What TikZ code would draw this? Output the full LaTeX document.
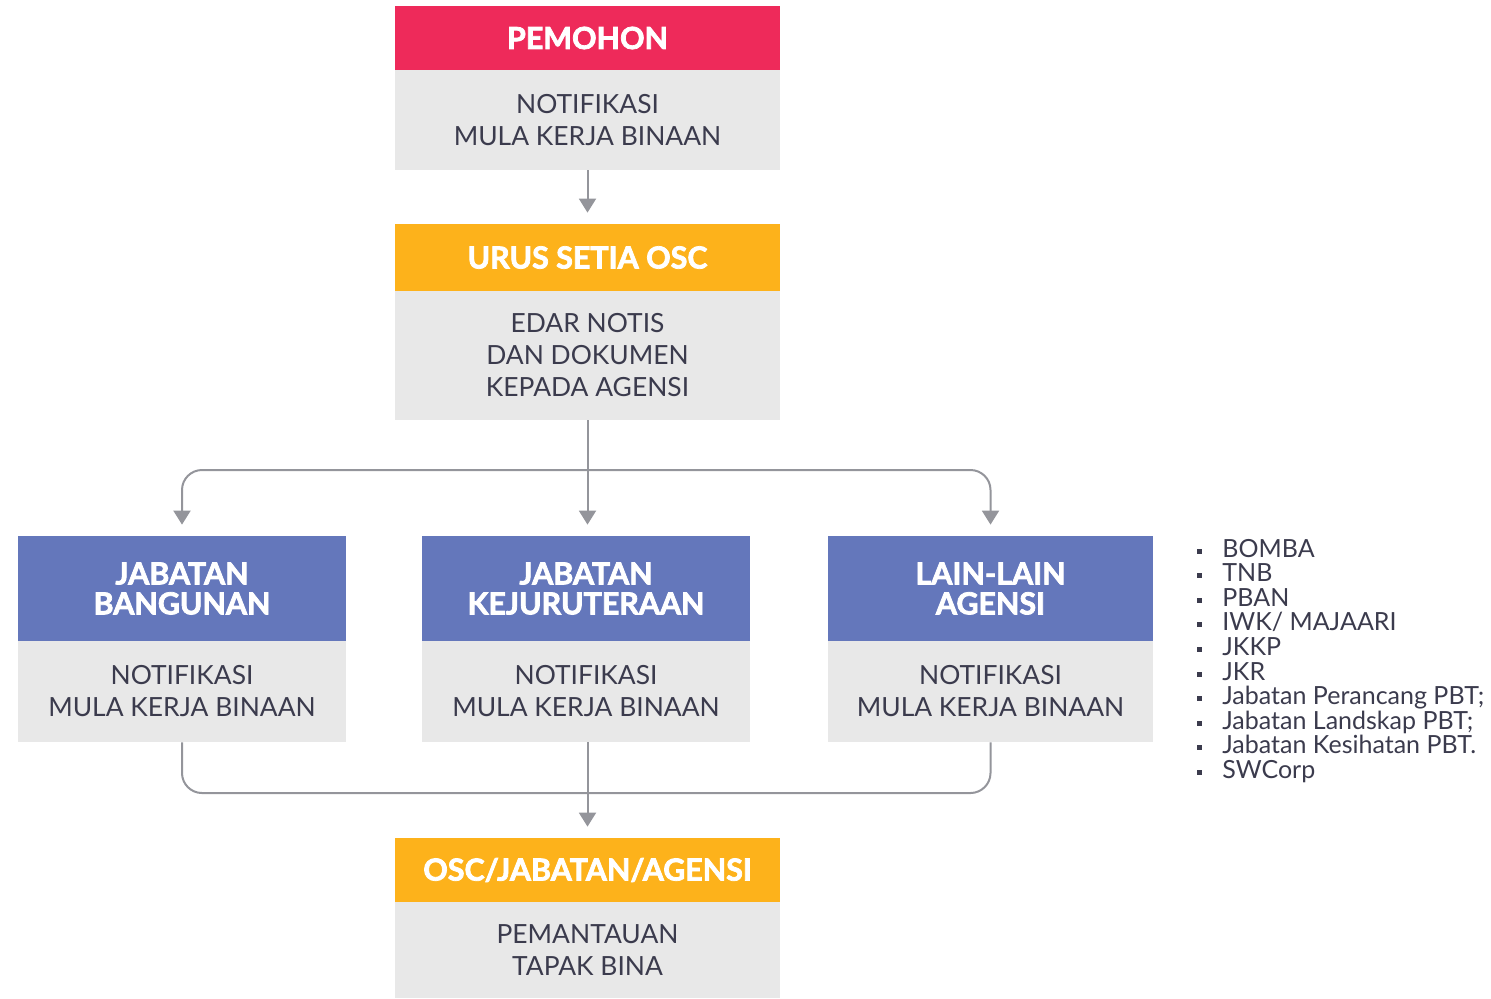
\documentclass[tikz,border=0pt]{standalone}
\usepackage{fontspec}
\setmainfont{Lato}[BoldFeatures={FakeBold=2.5}]
\usetikzlibrary{arrows.meta}
\definecolor{cred}{HTML}{EE2A5A}
\definecolor{corange}{HTML}{FDB21B}
\definecolor{cblue}{HTML}{6477BB}
\definecolor{cgrey}{HTML}{E8E8E8}
\definecolor{cline}{HTML}{94959B}
\definecolor{ctext}{HTML}{3B3B4D}
\begin{document}
\begin{tikzpicture}[x=0.5pt,y=-0.5pt,
  hdr/.style={inner sep=0pt, text=white, align=center,
    font=\fontsize{15.2}{15}\selectfont\bfseries},
  bodybox/.style={inner sep=0pt, fill=cgrey, text=ctext, align=center,
    font=\fontsize{13.2}{16}\selectfont},
  conn/.style={draw=cline, line width=1pt,
    -{Triangle[width=8.5pt,length=7pt]}, shorten >=5.5pt},
  link/.style={draw=cline, line width=1pt, rounded corners=10pt},
  item/.style={inner sep=0pt, anchor=base west, text=ctext,
    font=\fontsize{12.5}{12}\selectfont},
  bullet/.style={inner sep=0pt, fill=ctext, minimum size=2.5pt}
]
\useasboundingbox (0,0) rectangle (1491,998);

% top box
\node[hdr, fill=cred, minimum width=192.5pt, minimum height=32pt] (pemh) at (587.5,38) {PEMOHON};
\node[bodybox, minimum width=192.5pt, minimum height=50pt] (pemb) at (587.5,120) {NOTIFIKASI\\MULA KERJA BINAAN};

% urus setia
\node[hdr, fill=corange, minimum width=192.5pt, minimum height=33.5pt] (urush) at (587.5,257.5) {URUS SETIA OSC};
\node[bodybox, minimum width=192.5pt, minimum height=64.5pt] (urusb) at (587.5,355.5) {EDAR NOTIS\\DAN DOKUMEN\\KEPADA AGENSI};

% three agencies
\node[hdr, fill=cblue, minimum width=164pt, minimum height=52.5pt] (lefth) at (182,588.5) {JABATAN\\BANGUNAN};
\node[bodybox, minimum width=164pt, minimum height=50.5pt] (leftb) at (182,691.5) {NOTIFIKASI\\MULA KERJA BINAAN};

\node[hdr, fill=cblue, minimum width=164pt, minimum height=52.5pt] (midh) at (586,588.5) {JABATAN\\KEJURUTERAAN};
\node[bodybox, minimum width=164pt, minimum height=50.5pt] (midb) at (586,691.5) {NOTIFIKASI\\MULA KERJA BINAAN};

\node[hdr, fill=cblue, minimum width=162.5pt, minimum height=52.5pt] (righth) at (990.5,588.5) {LAIN-LAIN\\AGENSI};
\node[bodybox, minimum width=162.5pt, minimum height=50.5pt] (rightb) at (990.5,691.5) {NOTIFIKASI\\MULA KERJA BINAAN};

% bottom box
\node[hdr, fill=corange, minimum width=192.5pt, minimum height=32pt] (osch) at (587.5,870) {OSC/JABATAN/AGENSI};
\node[bodybox, minimum width=192.5pt, minimum height=48pt] (oscb) at (587.5,950) {PEMANTAUAN\\TAPAK BINA};

% connectors
\draw[conn] (pemb.south) -- (urush.north);
\coordinate (j1) at (587.5,470);
\draw[conn] (urusb.south) -- (urusb.south |- midh.north);
\draw[conn, rounded corners=10pt] (j1) -| (lefth.north);
\draw[conn, rounded corners=10pt] (j1) -| (righth.north);

\coordinate (j2) at (587.5,793);
\draw[link] (leftb.south) |- (j2);
\draw[link] (rightb.south) |- (j2);
\draw[conn] (urusb.south |- midb.south) -- (osch.north);

% list of other agencies
\foreach \t [count=\i from 0] in {BOMBA,TNB,PBAN,IWK/ MAJAARI,JKKP,JKR,Jabatan Perancang PBT;,Jabatan Landskap PBT;,Jabatan Kesihatan PBT.,SWCorp}{
  \node[item] (it\i) at (1222,{557+24.6*\i}) {\t};
  \node[bullet] (bu\i) at (1199,{551+24.6*\i}) {};
}
\end{tikzpicture}
\end{document}
